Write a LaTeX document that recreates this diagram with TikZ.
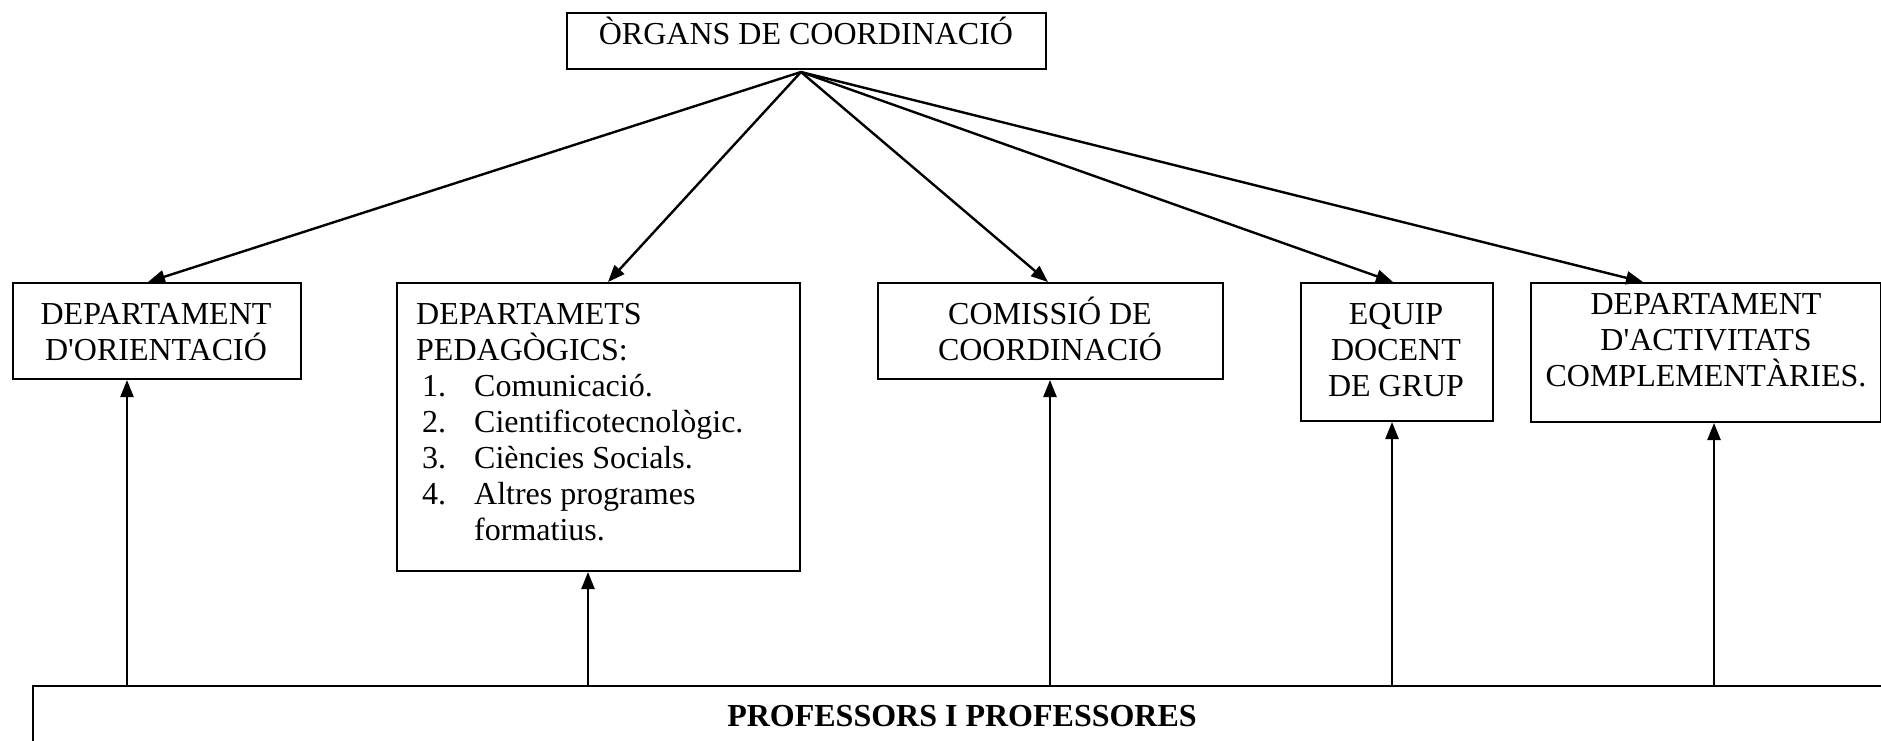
\documentclass[tikz,border=0pt]{standalone}
\usepackage{fontspec}
\setmainfont{Liberation Serif}[Ligatures=NoCommon]
\usetikzlibrary{arrows.meta}
\newcommand{\tstrut}{\rule{0pt}{30pt}}
\newcommand{\apos}{\textquotesingle}
\begin{document}
\begin{tikzpicture}[x=1pt,y=-1pt,
  box/.style={draw, line width=2pt, rectangle, inner sep=0pt, anchor=north west},
  txt/.style={inner sep=0pt, anchor=north, align=center, font=\fontsize{32}{36}\selectfont},
  arr/.style={line width=2.4pt, -{Triangle[length=17pt,width=13pt]}}
]
\clip (0,0) rectangle (1881,741);
\fill[white] (0,0) rectangle (1881,741);

% boxes
\node[box, minimum width=479pt, minimum height=56pt] (top) at (566,12) {};
\node[box, minimum width=288pt, minimum height=96pt] (orient) at (12,282) {};
\node[box, minimum width=403pt, minimum height=288pt] (ped) at (396,282) {};
\node[box, minimum width=345pt, minimum height=96pt] (com) at (877,282) {};
\node[box, minimum width=192pt, minimum height=138pt] (equip) at (1300,282) {};
\node[box, minimum width=350pt, minimum height=139pt] (activ) at (1530,282) {};
\node[box, minimum width=1880pt, minimum height=120pt] (prof) at (32,685) {};

% texts
\node[txt] (toptxt) at (806,14) {\tstrut ÒRGANS DE COORDINACIÓ};
\node[txt] (orienttxt) at (156,294) {\tstrut DEPARTAMENT\\D\apos ORIENTACIÓ};
\node[txt, anchor=north west, align=left] (pedtxt) at (416,294)
  {\tstrut DEPARTAMETS\\
   PEDAGÒGICS:\\
   \makebox[58pt][l]{\hspace*{6pt}1.}Comunicació.\\
   \makebox[58pt][l]{\hspace*{6pt}2.}Cientificotecnològic.\\
   \makebox[58pt][l]{\hspace*{6pt}3.}Ciències Socials.\\
   \makebox[58pt][l]{\hspace*{6pt}4.}Altres programes\\
   \hspace*{58pt}formatius.};
\node[txt] (comtxt) at (1050,294) {\tstrut COMISSIÓ DE\\COORDINACIÓ};
\node[txt] (equiptxt) at (1396,294) {\tstrut EQUIP\\DOCENT\\DE GRUP};
\node[txt] (activtxt) at (1706,284)
  {\tstrut DEPARTAMENT\\D\apos ACTIVITATS\\COMPLEMENTÀRIES.};
\node[inner sep=0pt, anchor=base, font=\fontsize{32}{36}\selectfont\bfseries] (proftxt) at (962,726)
  {PROFESSORS I PROFESSORES};

% apex of the fan
\coordinate (apex) at ([xshift=-5.5pt,yshift=-2pt]top.south);

% downward arrows
\draw[arr] (apex) -- ([xshift=136pt]orient.north west);
\draw[arr] (apex) -- ([xshift=212pt]ped.north west);
\draw[arr] (apex) -- ([xshift=171pt]com.north west);
\draw[arr] (apex) -- ([xshift=93pt]equip.north west);
\draw[arr] (apex) -- ([xshift=113pt]activ.north west);

% upward arrows
\draw[arr] ([xshift=115pt]orient.south west |- prof.north) -- ([xshift=115pt]orient.south west);
\draw[arr] ([xshift=192pt]ped.south west |- prof.north) -- ([xshift=192pt]ped.south west);
\draw[arr] ([xshift=173pt]com.south west |- prof.north) -- ([xshift=173pt]com.south west);
\draw[arr] ([xshift=92pt]equip.south west |- prof.north) -- ([xshift=92pt]equip.south west);
\draw[arr] ([xshift=184pt]activ.south west |- prof.north) -- ([xshift=184pt]activ.south west);
\end{tikzpicture}
\end{document}
